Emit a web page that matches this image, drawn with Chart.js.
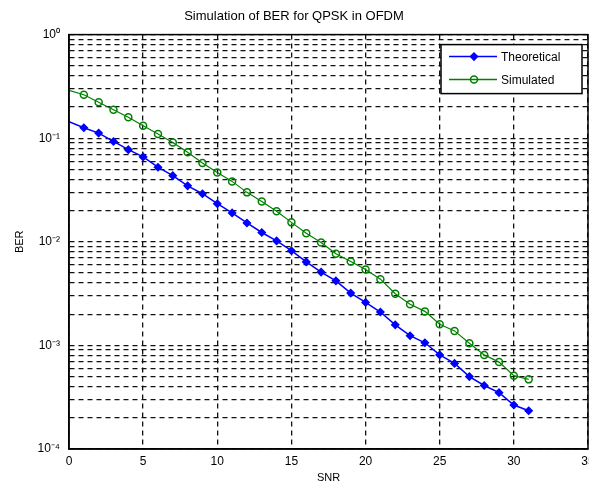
<!DOCTYPE html>
<html>
<head>
<meta charset="utf-8">
<script src="https://cdn.jsdelivr.net/npm/chart.js@4/dist/chart.umd.min.js"></script>
<style>
  html, body { margin: 0; padding: 0; background: #fff; overflow: hidden; }
  #wrap { position: relative; width: 600px; height: 493px; }
</style>
</head>
<body>
<div id="wrap"><canvas id="myChart"></canvas></div>
<script>
//DATA
const snr = [0, 1, 2, 3, 4, 5, 6, 7, 8, 9, 10, 11, 12, 13, 14, 15,
  16, 17, 18, 19, 20, 21, 22, 23, 24, 25, 26, 27, 28, 29, 30, 31];

const theoretical = [0.144, 0.126, 0.112, 0.093, 0.0775, 0.066, 0.0525, 0.0435,
  0.0347, 0.0291, 0.0233, 0.019, 0.0152, 0.0123, 0.0102, 0.0082,
  0.0064, 0.0051, 0.0042, 0.0032, 0.0026, 0.0021, 0.00158, 0.00124,
  0.00106, 0.00081, 0.00067, 0.0005, 0.00041, 0.00035, 0.000266, 0.000234];

const simulated = [0.29, 0.263, 0.222, 0.188, 0.159, 0.132, 0.11, 0.091,
  0.073, 0.0575, 0.0467, 0.0383, 0.03, 0.0245, 0.0197, 0.0154,
  0.0121, 0.00985, 0.00766, 0.00645, 0.0054, 0.00436, 0.00315, 0.0025,
  0.00213, 0.0016, 0.00138, 0.00105, 0.00081, 0.00069, 0.00051, 0.00047];

const seriesNames = ["Theoretical", "Simulated"];

//Y GRID LINES (DECADES + MINOR TICKS) AND LABELS
const yMajor = [0.0001, 0.001, 0.01, 0.1, 1];
const yMajorLabels = ["10\u207B\u2074", "10\u207B\u00B3", "10\u207B\u00B2", "10\u207B\u00B9", "10\u2070"];
const yMinorMult = [2, 3, 4, 5, 6, 7, 8, 9];

const xTicks = [0, 5, 10, 15, 20, 25, 30, 35];

let yTickValues = [];
for (let i = 0; i < yMajor.length; i++) {
  yTickValues.push(yMajor[i]);
  if (i < yMajor.length - 1) {
    for (let j = 0; j < yMinorMult.length; j++) {
      yTickValues.push(yMinorMult[j] * yMajor[i]);
    }
  }
}

function pairs(xs, ys) {
  let out = [];
  for (let i = 0; i < xs.length; i++) out.push({ x: xs[i], y: ys[i] });
  return out;
}

const FONT = "'Liberation Sans', Arial, Helvetica, sans-serif";

//BOX AROUND THE AXES (MATLAB STYLE)
const boxPlugin = {
  id: "boxPlugin",
  afterDraw(chart) {
    const { ctx, chartArea } = chart;
    ctx.save();
    ctx.strokeStyle = "#000";
    ctx.lineWidth = 1.5;
    ctx.strokeRect(chartArea.left, chartArea.top, chartArea.right - chartArea.left, chartArea.bottom - chartArea.top);
    ctx.restore();
  },
};

//LEGEND INSIDE THE PLOT, TOP RIGHT
const legendPlugin = {
  id: "legendPlugin",
  afterDraw(chart) {
    const { ctx, chartArea } = chart;
    const w = 141, h = 49;
    const x0 = chartArea.right - w - 6;
    const y0 = chartArea.top + 10;
    ctx.save();
    ctx.fillStyle = "#fff";
    ctx.fillRect(x0, y0, w, h);
    ctx.strokeStyle = "#000";
    ctx.lineWidth = 1.5;
    ctx.strokeRect(x0, y0, w, h);
    chart.data.datasets.forEach((ds, i) => {
      const y = y0 + 12 + i * 23;
      ctx.strokeStyle = ds.borderColor;
      ctx.lineWidth = 1.5;
      ctx.beginPath();
      ctx.moveTo(x0 + 8, y);
      ctx.lineTo(x0 + 56, y);
      ctx.stroke();
      ctx.fillStyle = ds.pointBackgroundColor;
      ctx.strokeStyle = ds.borderColor;
      Chart.helpers.drawPoint(ctx, { pointStyle: ds.pointStyle, radius: 3.5, borderWidth: 1.5, rotation: 0 }, x0 + 33, y);
      ctx.fillStyle = "#000";
      ctx.font = "12px " + FONT;
      ctx.textBaseline = "middle";
      ctx.fillText(ds.label, x0 + 60, y + 1);
    });
    ctx.restore();
  },
};

const pointRadii = snr.map((v, i) => (i === 0 ? 0 : 3.5));

const config = {
  type: "line",
  data: {
    datasets: [
      {
        label: seriesNames[0],
        data: pairs(snr, theoretical),
        borderColor: "#0000ff",
        backgroundColor: "#0000ff",
        pointBackgroundColor: "#0000ff",
        pointStyle: "rectRot",
        pointRadius: pointRadii,
        pointBorderWidth: 1.5,
        borderWidth: 1.5,
        tension: 0,
      },
      {
        label: seriesNames[1],
        data: pairs(snr, simulated),
        borderColor: "#008000",
        backgroundColor: "#008000",
        pointBackgroundColor: "rgba(0,0,0,0)",
        pointStyle: "circle",
        pointRadius: pointRadii,
        pointBorderWidth: 1.5,
        borderWidth: 1.2,
        tension: 0,
      },
    ],
  },
  options: {
    responsive: false,
    animation: false,
    layout: { padding: { right: 12, left: 0, top: 0, bottom: 0 } },
    plugins: {
      legend: { display: false },
      tooltip: { enabled: false },
      title: {
        display: true,
        text: "Simulation of BER for QPSK in OFDM",
        color: "#000",
        font: { family: FONT, size: 13, weight: "normal" },
        padding: { top: 9, bottom: 10 },
      },
    },
    scales: {
      x: {
        type: "linear",
        min: 0,
        max: 35,
        afterBuildTicks: (axis) => {
          axis.ticks = xTicks.map((v) => ({ value: v }));
        },
        afterFit: (scale) => {
          scale.height = 44;
        },
        ticks: {
          color: "#000",
          font: { family: FONT, size: 12 },
          padding: 5,
          maxRotation: 0,
          autoSkip: false,
        },
        grid: { color: "#111", lineWidth: 1.3, drawTicks: false },
        border: { color: "#000", width: 1.5, dash: [5, 4] },
        title: {
          display: true,
          text: "SNR",
          color: "#000",
          font: { family: FONT, size: 11 },
          padding: { top: 0, bottom: 8 },
        },
      },
      y: {
        type: "logarithmic",
        min: 0.0001,
        max: 1,
        afterBuildTicks: (axis) => {
          axis.ticks = yTickValues.map((v) => ({ value: v }));
        },
        afterFit: (scale) => {
          scale.width = 69;
        },
        ticks: {
          color: "#000",
          font: { family: FONT, size: 12 },
          padding: 9,
          autoSkip: false,
          callback: (value) => {
            for (let i = 0; i < yMajor.length; i++) {
              if (Math.abs(Math.log10(value) - Math.log10(yMajor[i])) < 1e-6) return yMajorLabels[i];
            }
            return "";
          },
        },
        grid: { color: "#111", lineWidth: 1.3, drawTicks: false },
        border: { color: "#000", width: 1.5, dash: [5, 4] },
        title: {
          display: true,
          text: "BER",
          color: "#000",
          font: { family: FONT, size: 11 },
          padding: { top: 13, bottom: 0 },
        },
      },
    },
  },
  plugins: [boxPlugin, legendPlugin],
};

const myChart = document.getElementById("myChart");
myChart.width = 600;
myChart.height = 493;
new Chart(myChart, config);
</script>
</body>
</html>
